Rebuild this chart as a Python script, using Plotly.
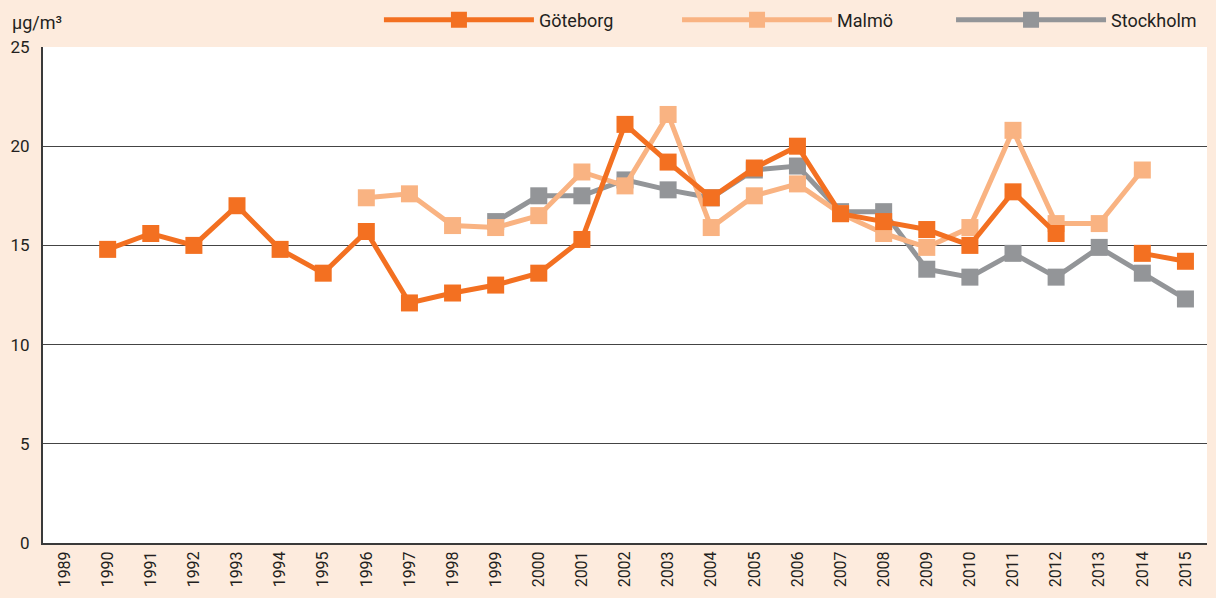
import plotly.graph_objects as go

years = [str(y) for y in range(1989, 2016)]

goteborg = [None, 14.8, 15.6, 15.0, 17.0, 14.8, 13.6, 15.7, 12.1, 12.6, 13.0, 13.6, 15.3,
            21.1, 19.2, 17.4, 18.9, 20.0, 16.6, 16.2, 15.8, 15.0, 17.7, 15.6, None, 14.6, 14.2]
malmo = [None, None, None, None, None, None, None, 17.4, 17.6, 16.0, 15.9, 16.5, 18.7,
         18.0, 21.6, 15.9, 17.5, 18.1, 16.6, 15.6, 14.9, 15.9, 20.8, 16.1, 16.1, 18.8, None]
stockholm = [None, None, None, None, None, None, None, None, None, None, 16.2, 17.5, 17.5,
             18.3, 17.8, 17.4, 18.8, 19.0, 16.7, 16.7, 13.8, 13.4, 14.6, 13.4, 14.9, 13.6, 12.3]

y_ticks = [0, 5, 10, 15, 20, 25]

C_GOT = "#F37021"
C_MAL = "#F9B382"
C_STO = "#939598"
BG = "#FDEBDD"
TXT = "#231F20"
FONT = "Roboto, sans-serif"

fig = go.Figure()
# drawing order: Stockholm bottom, Göteborg on top; each in its own legend
for name, vals, col, lg in [("Stockholm", stockholm, C_STO, "legend3"),
                            ("Malmö", malmo, C_MAL, "legend2"),
                            ("Göteborg", goteborg, C_GOT, "legend")]:
    fig.add_trace(go.Scatter(
        x=years, y=vals, name=name, mode="lines+markers",
        line=dict(color=col, width=5),
        marker=dict(symbol="square", size=17, color=col),
        connectgaps=False, legend=lg,
    ))

def leg(xpos):
    return dict(orientation="h", x=xpos, xanchor="left", y=1.0544, yanchor="middle",
                itemwidth=150, font=dict(size=18, color=TXT), bgcolor="rgba(0,0,0,0)")

fig.update_layout(
    width=1216, height=598,
    margin=dict(l=43, r=9, t=47, b=55, autoexpand=False),
    paper_bgcolor=BG, plot_bgcolor="white",
    font=dict(family=FONT, size=17, color=TXT),
    showlegend=True,
    legend=leg(0.2886),
    legend2=leg(0.5447),
    legend3=leg(0.7801),
    xaxis=dict(type="category", categoryorder="array", categoryarray=years,
               tickangle=-90, tickfont=dict(size=16), showgrid=False,
               showline=True, linecolor="#3a3a3a", linewidth=2, ticks="",
               range=[-0.5, len(years) - 0.5]),
    yaxis=dict(range=[0, 25], tickvals=y_ticks, showgrid=True, gridcolor="#444444",
               gridwidth=1, showline=True, linecolor="#3a3a3a", linewidth=2,
               ticks="outside", ticklen=8, tickcolor="rgba(0,0,0,0)", zeroline=False,
               tickfont=dict(size=17)),
    annotations=[dict(text="µg/m³", xref="paper", yref="paper", x=-0.028, y=1.0,
                      xanchor="left", yanchor="bottom", yshift=12, showarrow=False,
                      font=dict(size=18, color=TXT))],
)

fig.write_html("out.html", config={"displayModeBar": False},
               post_script="document.body.style.margin='0';document.body.style.padding='0';")
